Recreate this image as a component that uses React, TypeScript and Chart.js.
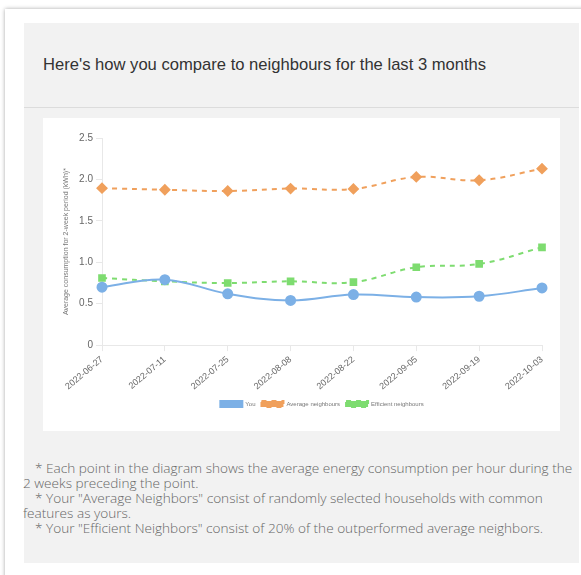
import React, { useEffect, useRef } from "react";
import { Chart, registerables } from "chart.js";

Chart.register(...registerables);

const categories = [
  "2022-06-27",
  "2022-07-11",
  "2022-07-25",
  "2022-08-08",
  "2022-08-22",
  "2022-09-05",
  "2022-09-19",
  "2022-10-03",
];
const youValues = [0.7, 0.79, 0.62, 0.54, 0.61, 0.58, 0.59, 0.69];
const averageValues = [1.895, 1.875, 1.86, 1.89, 1.885, 2.03, 1.99, 2.13];
const efficientValues = [0.81, 0.77, 0.75, 0.77, 0.76, 0.94, 0.98, 1.18];
const yTicks = [0, 0.5, 1, 1.5, 2, 2.5];

const BLUE = "#7cb0e6";
const ORANGE = "#f0a05c";
const GREEN = "#7edc70";

function LineChart() {
  const ref = useRef<HTMLCanvasElement | null>(null);
  useEffect(() => {
    if (!ref.current) return;
    const chart = new Chart(ref.current, {
      type: "line",
      data: {
        labels: categories,
        datasets: [
          {
            label: "You",
            data: youValues,
            borderColor: BLUE,
            backgroundColor: BLUE,
            borderWidth: 2,
            tension: 0.4,
            pointStyle: "circle",
            pointRadius: 4.5,
            pointBackgroundColor: BLUE,
            pointBorderColor: BLUE,
            fill: false,
          },
          {
            label: "Average neighbours",
            data: averageValues,
            borderColor: ORANGE,
            backgroundColor: ORANGE,
            borderWidth: 2,
            borderDash: [5, 5],
            tension: 0.4,
            pointStyle: "rectRot",
            pointRadius: 4.5,
            pointBackgroundColor: ORANGE,
            pointBorderColor: ORANGE,
            fill: false,
          },
          {
            label: "Efficient neighbours",
            data: efficientValues,
            borderColor: GREEN,
            backgroundColor: GREEN,
            borderWidth: 2,
            borderDash: [5, 5],
            tension: 0.4,
            pointStyle: "rect",
            pointRadius: 4,
            pointBackgroundColor: GREEN,
            pointBorderColor: GREEN,
            fill: false,
          },
        ],
      },
      options: {
        animation: false,
        responsive: true,
        maintainAspectRatio: false,
        layout: { padding: { left: 17, right: 18, top: 20, bottom: 14 } },
        plugins: {
          legend: {
            position: "bottom",
            fullSize: false,
            labels: {
              font: { size: 6, family: "'Helvetica Neue', Helvetica, Arial, sans-serif" },
              color: "#777",
              boxWidth: 22,
              boxHeight: 6,
              padding: 6,
            },
          },
          tooltip: { enabled: false },
        },
        scales: {
          x: {
            ticks: {
              font: { size: 9 },
              color: "#666",
              minRotation: 40,
              maxRotation: 40,
              autoSkip: false,
            },
            grid: { drawOnChartArea: false, tickLength: 6, color: "#e8e8e8" },
            border: { color: "#e8e8e8" },
          },
          y: {
            min: 0,
            max: 2.5,
            afterBuildTicks: (s: any) => {
              s.ticks = yTicks.map((v) => ({ value: v }));
            },
            ticks: {
              font: { size: 10 },
              color: "#666",
              callback: (v: any) => (Number(v) === 0 ? "0" : Number(v).toFixed(1)),
            },
            title: {
              display: true,
              text: "Average consumption for 2-week period (kWh)*",
              font: { size: 7 },
              color: "#777",
              padding: { top: 2, bottom: 2 },
            },
            grid: { drawOnChartArea: false, tickLength: 6, color: "#e8e8e8" },
            border: { color: "#e8e8e8" },
            afterFit: (s: any) => {
              s.width = 42;
            },
          },
        },
      },
    });
    return () => chart.destroy();
  }, []);
  return <canvas ref={ref} />;
}

export default function App() {
  const footFont = "'Open Sans', Lato, sans-serif";
  const lines = [
    { text: "* Each point in the diagram shows the average energy consumption per hour during the", indent: 12 },
    { text: "2 weeks preceding the point.", indent: 0 },
    { text: "* Your \"Average Neighbors\" consist of randomly selected households with common", indent: 12 },
    { text: "features as yours.", indent: 0 },
    { text: "* Your \"Efficient Neighbors\" consist of 20% of the outperformed average neighbors.", indent: 12 },
  ];
  return (
    <div style={{ position: "relative", width: 581, height: 575, overflow: "hidden", background: "#fff" }}>
      <style>{`body{margin:0}`}</style>
      <div
        style={{
          position: "absolute",
          left: 5,
          top: 9,
          width: 600,
          height: 600,
          background: "#fff",
          boxShadow: "0 0 4px rgba(0,0,0,0.35)",
        }}
      />
      <div
        style={{
          position: "absolute",
          left: 24,
          top: 23,
          width: 555,
          height: 540,
          background: "#f2f2f2",
        }}
      />
      <div
        style={{
          position: "absolute",
          left: 43,
          top: 55,
          fontFamily: "Arial, 'Liberation Sans', sans-serif",
          fontSize: 16.6,
          color: "#333",
          whiteSpace: "nowrap",
        }}
      >
        Here's how you compare to neighbours for the last 3 months
      </div>
      <div style={{ position: "absolute", left: 24, top: 107, width: 555, height: 1, background: "#dcdcdc" }} />
      <div
        style={{
          position: "absolute",
          left: 43,
          top: 118,
          width: 517,
          height: 313,
          background: "#fff",
        }}
      >
        <LineChart />
      </div>
      <div
        style={{
          position: "absolute",
          left: 23,
          top: 460,
          fontFamily: footFont,
          fontSize: 13.6,
          fontWeight: 300,
          lineHeight: "15px",
          color: "#666",
          whiteSpace: "nowrap",
        }}
      >
        {lines.map((l, i) => (
          <div key={i} style={{ paddingLeft: l.indent }}>
            {l.text}
          </div>
        ))}
      </div>
    </div>
  );
}
